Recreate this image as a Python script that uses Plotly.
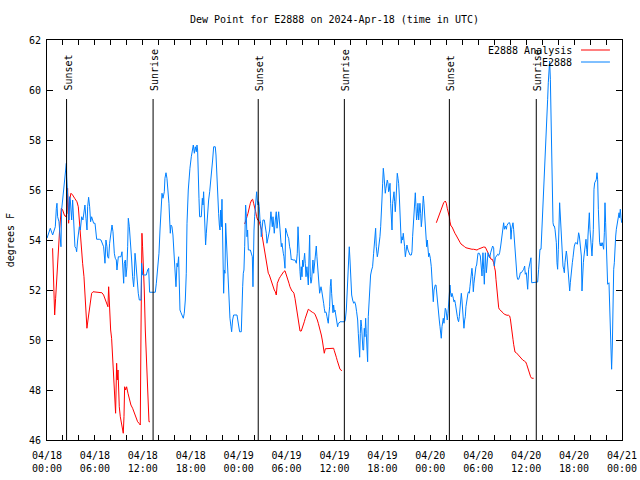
import pandas as pd
import plotly.graph_objects as go

BASE_TIME = "2024-04-18 00:00"

# ---------------- observed dew point (E2888), hours since 04/18 00:00 UTC ----------------
obs_hours_1 = [0.00,0.25,0.41,0.71,1.04,1.17,1.25,1.33,1.50,1.58,
    1.75,1.83,1.96,2.08,2.17,2.29,2.42,2.46,2.58,2.67,
    2.75,2.83,2.92,3.00,3.09,3.21,3.34,3.42,3.50,3.63,
    3.71,3.84,3.92,4.05,4.17,4.25,4.34,4.50,4.63,4.75,
    4.88,5.01,5.09,5.21,5.34,5.46,5.59,5.71,5.84,6.01,
    6.09,6.22,6.55,6.76,7.09,7.18,7.26,7.38,7.51,7.59,
    7.72,7.84,8.01,8.14,8.26,8.34,8.43,8.55,8.68,8.76,
    8.93,9.05,9.26,9.39,9.51,9.60,9.68,9.81,9.89,10.01,
    10.10,10.18,10.31,10.43,10.60,10.72,10.85,10.93,11.02,11.10,
    11.22,11.35,11.43,11.56,11.77,11.85,11.98,12.18,12.43,12.60,
    12.73,12.85,13.23,13.56,13.69,13.85,14.02,14.15,14.27,14.40,
    14.52,14.69,14.77,14.90,15.02,15.15,15.27,15.36,15.44,15.52,
    15.65,15.77,15.90,16.02,16.15,16.28,16.36,16.48,16.57,16.65,
    16.78,16.94,17.07,17.19,17.32,17.44,17.53,17.69,17.78,17.90]
obs_dewpt_1 = [54.07,54.27,54.47,54.2,54.53,55.27,55.47,54.93,54.73,54.4,
    53.73,55.2,55.6,56.0,56.4,56.8,57.07,56.53,55.73,54.93,
    54.8,55.73,55.6,55.2,54.8,55.6,54.8,54.27,53.73,53.67,
    53.53,54.0,54.27,54.53,54.4,54.67,54.93,54.8,55.27,55.4,
    54.87,54.4,55.33,55.71,55.33,54.73,54.93,54.8,54.67,54.67,
    54.33,54.03,54.03,54.0,53.73,53.27,53.07,54.0,53.73,53.33,
    53.27,53.87,54.27,54.6,54.33,53.73,53.47,53.27,53.2,52.8,
    53.33,53.33,53.33,53.53,52.93,52.27,53.07,53.2,52.53,52.93,
    53.73,54.87,54.53,53.73,53.2,52.53,52.13,52.53,53.47,53.2,
    52.53,52.27,51.87,51.6,51.6,53.07,52.6,52.6,52.6,52.8,
    52.87,51.91,51.91,51.91,52.27,52.93,53.47,54.4,55.33,55.87,
    55.67,55.93,56.47,56.69,56.47,56.0,55.47,54.8,54.27,54.6,
    54.53,54.2,53.47,52.67,52.13,53.07,52.93,53.33,52.0,51.2,
    51.09,51.0,50.87,51.07,51.6,52.67,54.67,56.0,56.47,56.87]

obs_hours_2 = [18.07,18.19,18.32,18.45,18.57,18.70,18.78,18.86,18.95,19.03,
    19.11,19.32,19.45,19.53,19.61,19.70,19.78,19.86,19.95,20.03,
    20.16,20.24,20.37,20.49,20.62,20.74,20.87,21.07,21.16,21.24,
    21.33,21.41,21.49,21.58,21.66,21.74,21.83,21.91,21.99,22.08,
    22.12,22.20,22.29,22.37,22.45,22.54,22.62,22.70,22.79,22.91,
    23.04,23.12,23.24,23.37,23.79,23.91,24.04,24.12,24.33,24.41,
    24.50,24.58,24.66,24.75,24.83,24.87,24.96,25.04,25.12,25.21,
    25.46,25.58,25.71,25.79,25.83,25.92,26.00,26.08,26.17,26.25,
    26.33,26.42,26.50,26.58,26.67,26.75,26.83,26.92,27.04,27.21,
    27.34,27.46,27.54,27.67,27.75,27.88,27.96,28.04,28.13,28.21,
    28.30,28.38,28.46,28.59,28.71,28.80,28.92,29.01,29.09,29.17,
    29.26,29.34,29.42,29.51,29.59,29.67,29.80,29.88,29.97,30.05,
    30.17,30.26,30.38,30.47,30.59,30.67,30.80,31.05,31.22,31.34,
    31.43,31.51,31.59,31.68,31.76,31.84,31.93,32.01,32.09,32.18,
    32.26,32.34,32.43,32.55,32.64,32.72,32.80,32.89,32.97,33.05,
    33.14,33.22,33.30,33.39,33.47,33.55,33.64,33.72,33.80,33.89,
    33.97,34.06,34.14,34.22,34.31,34.39,34.47,34.56,34.64,34.72,
    34.81,34.89,34.97,35.06,35.14,35.22,35.31,35.39,35.47,35.56,
    35.64,35.72,35.81,35.89,35.98,36.06,36.14,36.23,36.31,36.39,
    36.48,36.56,36.69]
obs_dewpt_2 = [57.33,57.6,57.8,57.47,57.73,57.53,57.8,57.6,56.93,55.67,
    54.93,54.93,55.67,55.4,55.93,55.2,54.53,53.8,54.27,54.8,
    55.2,55.6,55.93,56.27,56.67,57.2,57.73,57.73,57.4,56.67,
    56.13,55.6,55.07,54.6,54.4,55.2,54.53,55.63,54.13,52.8,
    51.87,52.8,52.67,54.67,54.07,53.73,53.07,52.13,51.4,50.87,
    50.53,50.33,50.8,51.0,51.0,50.8,50.53,50.33,50.33,51.6,
    52.13,52.67,52.8,53.73,54.8,55.4,54.93,54.13,54.4,53.6,
    53.6,53.47,53.33,52.13,53.2,54.4,54.93,55.2,55.6,55.93,
    55.6,55.4,55.53,55.33,54.8,54.67,54.13,54.53,54.8,54.8,
    54.53,54.27,53.87,54.07,54.2,54.4,54.8,55.13,54.8,54.53,
    54.93,54.53,54.27,54.8,55.13,54.47,54.8,55.13,54.8,54.4,
    54.0,53.73,53.87,53.73,53.47,53.33,52.87,54.47,54.4,54.27,
    54.13,54.07,53.73,53.6,53.2,53.23,53.2,53.2,53.07,53.47,
    54.53,53.73,53.2,52.73,52.4,52.93,52.53,53.2,52.93,53.33,
    53.47,53.07,52.53,52.93,52.53,52.2,53.2,54.2,52.53,52.27,
    52.4,52.8,53.2,52.67,52.93,53.33,53.6,53.76,53.33,52.93,
    52.53,52.4,51.87,52.0,52.13,52.0,51.87,51.73,51.47,51.27,
    51.09,51.13,51.09,50.93,50.83,50.67,51.07,51.33,52.13,52.43,
    51.87,51.33,51.09,51.4,51.13,51.2,51.07,50.93,50.73,50.53,
    50.67,50.67,50.73]

obs_hours_3 = [36.93,37.27,37.35,37.48,37.60,37.73,37.85,37.94,38.02,38.15,
    38.27,38.40,38.52,38.65,38.77,38.90,38.98,39.06,39.15,39.23,
    39.31,39.40,39.48,39.56,39.65,39.73,39.81,39.90,39.98,40.07,
    40.15,40.23,40.32,40.40,40.52,40.65,40.77,40.90,41.03,41.15,
    41.23,41.36,41.44,41.57,41.69,41.78,41.86,41.94,42.03,42.11,
    42.19,42.28,42.36,42.44,42.53,42.61,42.70,42.78,42.86,42.95,
    43.03,43.11,43.20,43.28,43.36,43.45,43.53,43.61,43.70,43.78,
    43.86,43.95,44.03,44.11,44.20,44.28,44.36,44.45,44.53,44.61,
    44.70,44.78,44.87,44.95,45.07,45.20,45.32,45.45,45.62,45.70,
    45.78,45.87,45.95,46.03,46.12,46.20,46.28,46.37,46.45,46.54,
    46.62,46.70,46.79,46.87,46.95,47.04,47.12,47.20,47.29,47.37,
    47.45,47.54,47.62,47.70,47.79,47.87,48.00,48.12,48.20,48.29,
    48.37,48.46,48.54,48.62,48.71,48.79,48.87,48.96,49.04,49.12,
    49.21,49.29,49.37,49.46,49.54,49.62,49.71,49.79,49.87,49.96,
    50.04,50.12,50.21,50.29,50.38,50.46,50.54,50.63,50.71,50.79,
    50.88,50.96,51.04,51.13,51.21,51.29,51.38,51.46,51.54,51.63,
    51.71,51.79,51.88,51.96,52.04,52.13,52.21,52.30,52.38,52.46,
    52.55,52.63,52.71,52.80,52.88,52.96,53.05,53.13,53.21,53.30,
    53.38,53.46,53.55,53.63,53.71,53.80,53.88,53.97,54.13]
obs_dewpt_3 = [50.73,50.73,50.8,51.2,52.0,53.07,53.73,53.2,52.53,51.8,
    51.6,51.47,51.53,51.4,51.13,50.8,50.27,49.73,49.31,50.27,
    50.8,50.53,49.93,49.6,49.6,50.47,50.13,50.87,50.27,49.73,
    49.13,50.93,51.4,52.27,52.6,52.8,52.93,53.47,54.13,54.47,
    53.73,53.33,53.47,53.73,54.13,54.53,54.93,55.6,56.27,56.87,
    56.6,56.27,55.87,56.07,56.27,56.4,56.27,55.93,56.0,56.27,
    55.47,54.93,54.4,55.47,55.73,55.93,55.53,55.13,55.6,56.2,
    56.67,56.47,56.27,55.8,55.07,54.4,53.87,54.13,54.0,54.27,
    54.07,53.73,53.33,53.53,53.8,53.6,53.47,53.4,53.4,53.53,
    54.13,54.53,55.07,55.6,55.89,55.33,54.8,55.07,55.47,54.8,
    55.2,55.47,55.07,54.53,54.8,55.33,55.76,55.47,54.93,54.53,
    54.27,53.73,54.0,53.73,53.33,53.47,53.27,52.93,52.4,51.87,
    51.53,52.0,52.13,52.2,52.2,51.87,51.47,51.2,51.07,50.8,
    50.53,50.27,50.07,50.53,50.67,50.87,50.67,50.93,51.27,51.2,
    51.07,50.8,51.07,51.47,51.8,52.2,51.87,51.73,51.87,51.8,
    51.67,51.53,51.6,51.47,51.2,51.07,50.93,50.8,50.73,50.93,
    51.2,51.6,51.87,51.6,51.07,50.67,50.47,50.8,50.93,51.33,
    51.6,51.73,51.87,51.93,51.87,52.13,52.4,52.67,52.87,52.53,
    51.93,52.27,52.53,52.8,52.93,53.0,53.33,53.47,53.47]

obs_hours_4 = [54.26,54.47,54.59,54.68,54.76,54.89,55.01,55.09,55.22,55.30,
    55.43,55.55,55.68,55.80,55.93,56.01,56.14,56.26,56.43,56.56,
    56.68,56.81,56.93,57.06,57.18,57.27,57.39,57.52,57.60,57.81,
    57.93,58.02,58.10,58.18,58.27,58.35,58.43,58.52,58.60,58.68,
    58.77,58.85,58.93,59.06,59.19,59.27,59.39,59.52,59.69,59.81,
    59.89,60.02,60.10,60.19,60.31,60.44,60.52,60.60,60.69,60.94,
    61.19,61.44,61.56,61.65,61.73,61.86,61.94,62.02,62.11,62.19,
    62.27,62.36,62.44,62.52,62.61,62.69,62.77,62.86,62.94,63.03,
    63.11,63.19,63.28,63.36,63.44,63.53,63.61,63.69,63.78,63.86,
    63.94,64.03,64.11,64.19,64.28,64.36,64.44,64.53,64.61,64.70,
    64.78,64.86,64.95,65.03,65.11,65.20,65.28,65.36,65.45,65.53,
    65.61,65.70,65.78,65.86,65.95,66.03,66.16,66.28,66.41,66.49,
    66.57,66.66,66.74,66.82,66.91,66.99,67.07,67.16,67.24,67.33,
    67.41,67.49,67.58,67.66,67.74,67.83,67.91,67.99,68.08,68.16,
    68.24,68.33,68.41,68.49,68.58,68.70,68.79,68.87,68.95,69.04,
    69.12,69.20,69.29,69.37,69.45,69.54,69.62,69.70,69.79,69.87,
    69.95,70.04,70.12,70.20,70.37,70.45,70.54,70.62,70.70,70.79,
    70.87,70.96,71.04,71.12,71.21,71.29,71.37,71.46,71.54,71.63,
    71.71,71.79,71.88,71.96]
obs_dewpt_4 = [53.36,52.56,53.49,52.83,52.23,53.49,52.69,52.96,53.49,53.36,
    53.29,53.49,53.69,53.76,53.69,52.96,53.29,53.36,53.43,53.39,
    53.49,53.76,54.16,54.43,54.69,54.43,54.56,54.43,54.59,54.69,
    54.69,54.56,54.03,54.43,54.69,54.69,54.43,54.03,53.63,53.09,
    52.83,52.56,52.43,52.43,52.56,52.69,52.69,52.76,52.83,52.96,
    52.63,52.69,52.29,52.03,52.83,53.09,53.23,53.29,52.29,52.29,
    52.29,52.32,52.83,53.36,53.63,53.63,54.16,54.96,55.49,55.89,
    56.29,56.96,57.63,58.29,58.96,59.63,60.29,60.96,61.16,60.43,
    58.83,57.09,55.76,54.69,54.56,54.56,54.43,54.16,53.89,53.09,
    52.83,53.63,54.69,55.49,54.96,54.43,53.89,53.36,52.96,52.83,
    52.69,53.09,53.49,53.56,53.36,52.96,52.69,52.43,51.96,52.29,
    52.69,52.83,53.09,53.29,53.63,53.76,53.89,53.89,53.83,54.03,
    54.29,54.16,53.89,53.63,53.36,51.96,52.83,53.09,53.36,53.63,
    53.89,54.03,53.63,53.36,54.16,54.56,55.09,54.43,53.89,53.49,
    53.36,53.89,54.43,56.03,56.29,56.36,56.43,56.69,56.43,55.23,
    54.43,53.89,53.76,53.89,53.76,53.89,53.76,53.63,54.29,55.49,
    54.69,53.89,52.96,52.23,52.29,51.49,50.16,49.76,48.83,49.76,
    51.49,52.83,53.09,53.83,54.16,54.43,54.56,54.69,54.89,55.09,
    54.89,55.23,54.89,54.69]

# ---------------- analysis (E2888 Analysis), three runs ----------------
ana_hours_1 = [0.70,0.83,0.96,1.08,1.25,1.46,1.58,1.79,1.96,2.17,
    2.33,2.50,2.58,2.71,2.83,3.00,3.21,3.46,3.75,3.92,
    4.04,4.17,4.34,4.46,4.63,4.75,4.88,5.00,5.13,5.25,
    5.42,5.59,5.76,6.26,6.88,7.09,7.30,7.51,7.63,7.72,
    7.80,7.88,7.97,8.09,8.22,8.34,8.47,8.59,8.72,8.80,
    8.89,8.97,9.05,9.18,9.30,9.47,9.55,9.64,9.72,9.85,
    9.97,10.14,10.31,10.51,10.72,10.93,11.14,11.35,11.52,11.68,
    11.77,11.89,11.97,12.06,12.18,12.31,12.43,12.56,12.69,12.77,
    12.89]
ana_dewpt_1 = [53.67,51.73,51.0,51.67,52.8,53.73,54.4,55.27,55.2,55.0,
    54.93,55.07,56.07,54.67,55.6,55.87,55.8,55.67,55.53,55.33,
    54.8,54.13,53.6,53.07,52.53,51.87,50.93,50.47,50.8,51.13,
    51.53,51.87,51.93,51.91,51.89,51.8,51.6,51.47,51.33,52.13,
    51.33,50.73,50.4,50.07,49.2,48.4,47.47,47.07,49.07,48.4,
    48.8,48.0,47.33,46.93,46.67,46.47,46.27,46.93,48.13,48.0,
    48.13,47.87,47.6,47.4,47.27,47.07,46.87,46.73,46.67,46.6,
    50.4,54.27,53.73,53.07,52.0,50.4,49.47,48.4,47.33,46.73,
    46.73]

ana_hours_2 = [24.75,24.87,25.04,25.17,25.29,25.46,25.62,25.75,25.87,26.00,
    26.13,26.25,26.38,26.50,26.63,26.75,26.88,26.96,27.09,27.21,
    27.34,27.46,27.59,27.71,27.84,27.96,28.09,28.21,28.34,28.46,
    28.59,28.71,28.84,28.96,29.09,29.21,29.34,29.46,29.63,29.80,
    29.92,30.05,30.17,30.30,30.42,30.55,30.67,30.80,30.92,31.05,
    31.18,31.30,31.43,31.55,31.68,31.84,31.97,32.09,32.22,32.34,
    32.47,32.59,32.72,32.85,32.97,33.10,33.22,33.35,33.47,33.60,
    33.72,33.85,33.97,34.10,34.22,34.35,34.47,34.60,34.72,34.85,
    35.27,35.89,35.98,36.10,36.23,36.35,36.48,36.60,36.69,36.93]
ana_dewpt_2 = [54.64,54.8,54.93,55.07,55.27,55.47,55.6,55.63,55.47,55.33,
    55.13,54.93,54.8,54.8,54.67,54.53,54.4,54.13,53.87,53.67,
    53.47,53.2,52.87,52.67,52.6,52.47,52.33,52.2,52.07,52.0,
    51.93,51.8,52.27,52.4,52.47,52.53,52.6,52.67,52.73,52.77,
    52.67,52.53,52.4,52.27,52.13,52.0,51.96,51.93,51.87,51.67,
    51.4,51.13,50.8,50.47,50.36,50.36,50.47,50.6,50.73,50.87,
    51.0,51.13,51.23,51.2,51.16,51.13,51.11,51.09,51.07,51.0,
    50.93,50.8,50.67,50.53,50.4,50.2,50.0,49.73,49.47,49.65,
    49.67,49.67,49.57,49.47,49.31,49.17,49.07,48.93,48.83,48.77]

ana_hours_3 = [48.75,48.87,49.04,49.16,49.29,49.42,49.54,49.67,49.87,50.00,
    50.12,50.25,50.38,50.46,50.58,50.71,50.83,50.96,51.08,51.21,
    51.34,51.46,51.59,51.71,51.84,51.96,52.13,52.30,52.46,52.63,
    52.80,53.00,53.21,53.42,53.63,53.84,54.05,54.26,54.47,54.68,
    54.89,55.01,55.18,55.30,55.43,55.60,55.76,55.93,56.05,56.14,
    56.22,56.31,56.39,56.47,56.56,56.64,56.76,56.93,57.10,57.27,
    57.43,57.60,57.81,57.93,58.02,58.10,58.18,58.27,58.35,58.43,
    58.52,58.60,58.77,58.93,59.10,59.27,59.44,59.60,59.77,59.94,
    60.06,60.19,60.31,60.44,60.56,60.69,60.94]
ana_dewpt_3 = [54.69,54.8,54.93,55.07,55.2,55.31,55.4,55.49,55.56,55.47,
    55.27,55.13,54.93,54.73,54.56,54.53,54.43,54.33,54.27,54.2,
    54.11,54.03,53.97,53.91,53.84,53.8,53.76,53.73,53.69,53.67,
    53.67,53.64,53.63,53.63,53.6,53.6,53.64,53.67,53.71,53.72,
    53.71,53.63,53.49,53.43,53.29,53.23,53.23,53.09,52.89,52.76,
    52.43,52.03,51.63,51.36,51.29,51.23,51.2,51.16,51.09,51.03,
    51.0,50.99,50.99,50.96,50.85,50.69,50.49,50.23,50.03,49.83,
    49.63,49.52,49.49,49.43,49.36,49.29,49.23,49.19,49.16,49.12,
    49.03,48.89,48.76,48.63,48.53,48.47,48.47]

sun_event_times = ["2024-04-18 02:27", "2024-04-18 13:17", "2024-04-19 02:27",
                   "2024-04-19 13:14", "2024-04-20 02:23", "2024-04-20 13:16"]
sun_event_labels = ["Sunset", "Sunrise", "Sunset", "Sunrise", "Sunset", "Sunrise"]

y_ticks = [46, 48, 50, 52, 54, 56, 58, 60, 62]
x_tick_step_hours = 2
x_label_step_hours = 6

# ---------------- build ----------------
obs_pairs = [(obs_hours_1, obs_dewpt_1), (obs_hours_2, obs_dewpt_2),
             (obs_hours_3, obs_dewpt_3), (obs_hours_4, obs_dewpt_4)]
ana_pairs = [(ana_hours_1, ana_dewpt_1), (ana_hours_2, ana_dewpt_2),
             (ana_hours_3, ana_dewpt_3)]
for h, v in obs_pairs + ana_pairs:
    assert len(h) == len(v), (len(h), len(v))

base = pd.Timestamp(BASE_TIME)


def to_times(hours):
    return list(base + pd.to_timedelta(hours, unit="h"))


obs_x, obs_y = [], []
for h, v in obs_pairs:
    obs_x += to_times(h)
    obs_y += list(v)

ana_x, ana_y = [], []
for h, v in ana_pairs:
    if ana_x:
        ana_x.append(None)
        ana_y.append(None)
    ana_x += to_times(h)
    ana_y += list(v)

FONT = "DejaVu Sans Mono"
fig = go.Figure()
fig.add_trace(go.Scatter(x=ana_x, y=ana_y, mode="lines", name="E2888 Analysis",
                         line=dict(color="#ff0000", width=1), connectgaps=False,
                         showlegend=False))
fig.add_trace(go.Scatter(x=obs_x, y=obs_y, mode="lines", name="E2888",
                         line=dict(color="#0080ff", width=1), showlegend=False))

# x ticks
tick_hours = list(range(0, 72 + 1, x_tick_step_hours))
tick_times = to_times(tick_hours)
tick_text = [t.strftime("%m/%d<br>%H:%M") if h % x_label_step_hours == 0 else ""
             for h, t in zip(tick_hours, tick_times)]

LINE_TOP = 59.64
for t, lab in zip(sun_event_times, sun_event_labels):
    fig.add_shape(type="line", xref="x", yref="y", x0=t, x1=t, y0=46, y1=LINE_TOP,
                  line=dict(color="black", width=1))
    fig.add_annotation(x=t, y=59.88, xref="x", yref="y", text=lab, showarrow=False,
                       textangle=-90, xanchor="center", yanchor="bottom", xshift=1,
                       font=dict(family=FONT, size=10, color="black"))

# legend (gnuplot style: text then sample line)
legend_items = [("E2888 Analysis", "#ff0000", 0.975), ("E2888", "#0080ff", 0.945)]
for name, col, yy in legend_items:
    fig.add_annotation(x=0.9165, y=yy, xref="paper", yref="paper", text=name,
                       showarrow=False, xanchor="right", yanchor="middle",
                       font=dict(family=FONT, size=10, color="black"))
    fig.add_shape(type="line", xref="paper", yref="paper", x0=0.9287, x1=0.979,
                  y0=yy, y1=yy, line=dict(color=col, width=1))

fig.add_annotation(x=-0.064, y=0.5, xref="paper", yref="paper", text="degrees F",
                   showarrow=False, textangle=-90, xanchor="center", yanchor="middle",
                   font=dict(family=FONT, size=10, color="black"))

# title (placed 19 px from the top of the page)
fig.add_annotation(x=0.5, y=1 + 21 / 400, xref="paper", yref="paper",
                   text="Dew Point for E2888 on 2024-Apr-18 (time in UTC)",
                   showarrow=False, xanchor="center", yanchor="middle",
                   font=dict(family=FONT, size=10, color="black"))

fig.update_layout(
    width=640, height=480,
    margin=dict(l=47, r=18, t=40, b=40, autoexpand=False),
    paper_bgcolor="white", plot_bgcolor="white",
    font=dict(family=FONT, size=10, color="black"),
    showlegend=False,
)
fig.update_xaxes(
    type="date", range=[tick_times[0], tick_times[-1]],
    tickmode="array", tickvals=tick_times, ticktext=tick_text,
    ticks="inside", ticklen=5, tickcolor="black", tickwidth=1,
    showline=True, linecolor="black", linewidth=1, mirror="ticks",
    showgrid=False, zeroline=False, ticklabelstandoff=6, automargin=False,
    tickfont=dict(family=FONT, size=10, color="black"),
)
fig.update_yaxes(
    range=[46, 62], tickmode="array", tickvals=y_ticks,
    ticktext=[str(v) for v in y_ticks],
    ticks="inside", ticklen=6, tickcolor="black", tickwidth=1,
    showline=True, linecolor="black", linewidth=1, mirror="ticks",
    showgrid=False, zeroline=False, ticklabelstandoff=3, automargin=False,
    tickfont=dict(family=FONT, size=10, color="black"),
)

fig.write_html("out.html", config={"displayModeBar": False},
               post_script="document.body.style.margin='0px';")
